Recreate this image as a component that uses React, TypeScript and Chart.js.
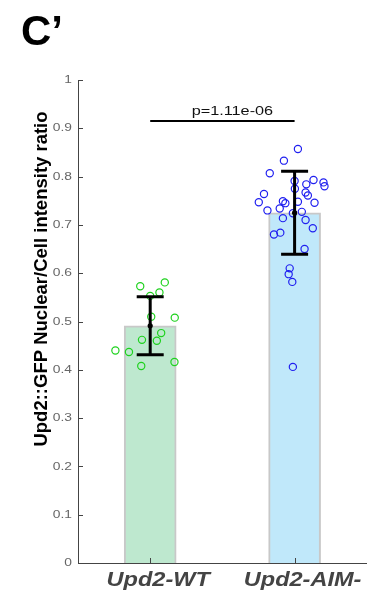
import { useEffect, useRef } from "react";
import { Chart, registerables } from "chart.js";

Chart.register(...registerables);

// ---- data ----
const categories = ["Upd2-WT", "Upd2-AIM-"];
const barMeans = [0.491, 0.725];
const barSD = [0.06, 0.086];

// individual cells (x = group index + jitter)
const wtX = [0.931, 1.101, 1.0, 1.064, 1.007, 1.17, 1.076, 0.943, 1.046, 0.759, 0.853, 1.168, 0.938];
const wtY = [0.573, 0.581, 0.553, 0.56, 0.51, 0.508, 0.476, 0.462, 0.46, 0.44, 0.437, 0.416, 0.408];

const aimX = [
  2.023, 1.926, 1.828, 2.0, 2.081, 2.131, 2.2, 2.207, 2.002, 2.076, 2.092, 1.788, 1.752, 1.919, 1.936, 2.023,
  2.138, 1.812, 1.897, 1.988, 2.05, 1.919, 2.076, 2.126, 1.857, 1.901, 2.069, 1.966, 1.959, 1.984, 1.988,
];
const aimY = [
  0.857, 0.833, 0.807, 0.791, 0.784, 0.793, 0.788, 0.78, 0.775, 0.767, 0.761, 0.764, 0.747, 0.749, 0.745, 0.748,
  0.746, 0.73, 0.734, 0.724, 0.727, 0.714, 0.71, 0.693, 0.68, 0.684, 0.65, 0.61, 0.598, 0.582, 0.406,
];

const yTicks = [0, 0.1, 0.2, 0.3, 0.4, 0.5, 0.6, 0.7, 0.8, 0.9, 1];
const pLabel = "p=1.11e-06";
const panelLabel = "C\u2019";
const yTitle = "Upd2::GFP Nuclear/Cell intensity ratio";

const FONT = "'Liberation Sans', Arial, Helvetica, sans-serif";
const AXIS_COLOR = "#444444";

function drawText(
  ctx: CanvasRenderingContext2D,
  text: string,
  x: number,
  y: number,
  font: string,
  color: string,
  align: CanvasTextAlign,
  baseline: CanvasTextBaseline,
  sx = 1,
  rotate = 0
) {
  ctx.save();
  ctx.font = font;
  ctx.fillStyle = color;
  ctx.textAlign = align;
  ctx.textBaseline = baseline;
  ctx.translate(x, y);
  if (rotate) ctx.rotate(rotate);
  ctx.scale(sx, 1);
  ctx.fillText(text, 0, 0);
  ctx.restore();
}

const decorations = {
  id: "decorations",
  afterDatasetsDraw(chart: any) {
    const { ctx, scales } = chart;
    const xs = scales.x;
    const ys = scales.y;

    // error bars (mean ± SD)
    ctx.save();
    ctx.strokeStyle = "#000";
    ctx.fillStyle = "#000";
    ctx.lineWidth = 3;
    ctx.lineCap = "butt";
    barMeans.forEach((m, i) => {
      const px = xs.getPixelForValue(i + 1);
      const top = ys.getPixelForValue(m + barSD[i]);
      const bot = ys.getPixelForValue(m - barSD[i]);
      const mid = ys.getPixelForValue(m);
      ctx.beginPath();
      ctx.moveTo(px, top);
      ctx.lineTo(px, bot);
      ctx.moveTo(px - 13.5, top);
      ctx.lineTo(px + 13.5, top);
      ctx.moveTo(px - 13.5, bot);
      ctx.lineTo(px + 13.5, bot);
      ctx.stroke();
      ctx.beginPath();
      ctx.arc(px, mid, 2.6, 0, Math.PI * 2);
      ctx.fill();
    });

    // significance bracket
    const sy = ys.getPixelForValue(0.915);
    const x1 = xs.getPixelForValue(1);
    const x2 = xs.getPixelForValue(2);
    ctx.lineWidth = 2;
    ctx.beginPath();
    ctx.moveTo(x1, sy);
    ctx.lineTo(x2, sy);
    ctx.stroke();
    ctx.restore();
    drawText(ctx, pLabel, (x1 + x2) / 2 + 10, sy - 6.5, `13px ${FONT}`, "#111", "center", "alphabetic", 1.25);
  },
  afterDraw(chart: any) {
    const { ctx, scales, chartArea } = chart;
    const xs = scales.x;
    const ys = scales.y;

    // inward tick marks
    ctx.save();
    ctx.strokeStyle = AXIS_COLOR;
    ctx.lineWidth = 1;
    ctx.beginPath();
    yTicks.forEach((v) => {
      const py = Math.round(ys.getPixelForValue(v)) + 0.5;
      ctx.moveTo(chartArea.left, py);
      ctx.lineTo(chartArea.left + 5, py);
    });
    categories.forEach((_, i) => {
      const px = Math.round(xs.getPixelForValue(i + 1)) + 0.5;
      ctx.moveTo(px, chartArea.bottom);
      ctx.lineTo(px, chartArea.bottom - 5);
    });
    ctx.stroke();
    ctx.restore();

    // y tick labels
    yTicks.forEach((v) => {
      const label = v === 0 ? "0" : v === 1 ? "1" : v.toFixed(1);
      drawText(ctx, label, chartArea.left - 6, ys.getPixelForValue(v), `11.5px ${FONT}`, "#666", "right", "middle", 1.2);
    });

    // category labels
    categories.forEach((c, i) => {
      drawText(
        ctx,
        c,
        xs.getPixelForValue(i + 1) + 8,
        chartArea.bottom + 23,
        `italic bold 21px ${FONT}`,
        "#444",
        "center",
        "alphabetic",
        1.12
      );
    });

    // y-axis title
    drawText(ctx, yTitle, 41.5, 279, `bold 18.5px ${FONT}`, "#000", "center", "middle", 1, -Math.PI / 2);

    // panel label
    drawText(ctx, panelLabel, 21, 45, `bold 42px ${FONT}`, "#000", "left", "alphabetic");
  },
};

export default function App() {
  const canvasRef = useRef<HTMLCanvasElement | null>(null);

  useEffect(() => {
    const canvas = canvasRef.current;
    if (!canvas) return;
    const chart = new Chart(canvas, {
      type: "bar",
      data: {
        datasets: [
          {
            type: "scatter",
            label: categories[0],
            data: wtX.map((x, i) => ({ x, y: wtY[i] })),
            borderColor: "#1ed21e",
            backgroundColor: "rgba(0,0,0,0)",
            pointRadius: 3.6,
            pointBorderWidth: 1.2,
            order: 1,
          } as any,
          {
            type: "scatter",
            label: categories[1],
            data: aimX.map((x, i) => ({ x, y: aimY[i] })),
            borderColor: "#2020f0",
            backgroundColor: "rgba(0,0,0,0)",
            pointRadius: 3.6,
            pointBorderWidth: 1.2,
            order: 1,
          } as any,
          {
            type: "bar",
            label: "mean",
            data: barMeans.map((y, i) => ({ x: i + 1, y })),
            backgroundColor: ["rgb(190,232,207)", "rgb(192,232,250)"],
            borderColor: "#c8c8c8",
            borderWidth: 2,
            barThickness: 52,
            order: 10,
          } as any,
        ],
      },
      options: {
        responsive: false,
        animation: false,
        events: [],
        layout: { padding: { top: 80, right: 2, left: 0, bottom: 0 } },
        plugins: {
          legend: { display: false },
          tooltip: { enabled: false },
          title: { display: false },
        },
        scales: {
          x: {
            type: "linear",
            min: 0.5,
            max: 2.5,
            offset: false,
            ticks: { display: false },
            grid: { display: false, drawTicks: false, offset: false },
            border: { display: true, color: AXIS_COLOR, width: 1 },
            afterFit: (axis: any) => {
              axis.height = 31;
            },
          },
          y: {
            type: "linear",
            min: 0,
            max: 1,
            ticks: { display: false, stepSize: 0.1 },
            grid: { display: false, drawTicks: false },
            border: { display: true, color: AXIS_COLOR, width: 1 },
            afterFit: (axis: any) => {
              axis.width = 78;
            },
          },
        },
      } as any,
      plugins: [decorations],
    });
    return () => chart.destroy();
  }, []);

  return (
    <div style={{ position: "fixed", left: 0, top: 0, width: 372, height: 594, background: "#fff" }}>
      <canvas ref={canvasRef} width={372} height={594} style={{ display: "block" }} />
    </div>
  );
}
